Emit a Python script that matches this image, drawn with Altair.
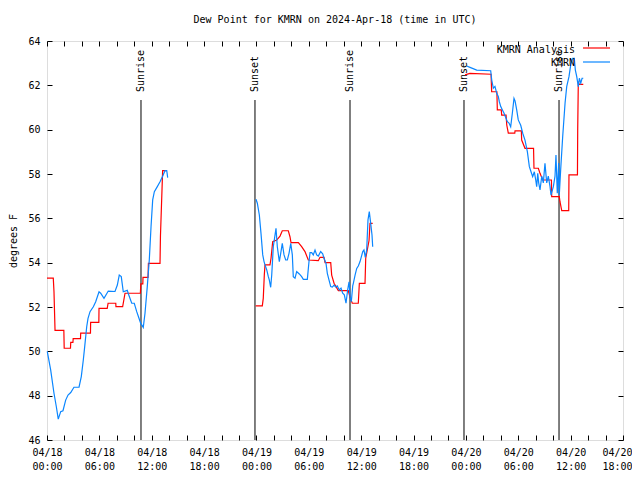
import altair as alt
import pandas as pd

FONT = "DejaVu Sans Mono"
RED = "#ff0000"
BLUE = "#0a86ff"

# hours since 2024-04-18 00:00 UTC
ANALYSIS_HOURS = [
    [0.0, 0.72, 0.8, 0.92, 1.93, 1.97, 2.69, 2.72, 2.97, 3.0, 3.84, 3.86, 4.98, 5.0,
     5.94, 5.96, 6.9, 7.0, 7.88, 7.9, 8.67, 8.94, 10.7, 10.75, 10.98, 11.0, 11.58,
     11.62, 12.95, 13.0, 13.25, 13.72],
    [23.91, 24.67, 24.78, 24.9, 24.98, 25.55, 25.67, 25.86, 26.32, 26.7, 26.96, 27.65,
     27.84, 27.96, 28.8, 29.18, 29.56, 29.94, 31.09, 31.28, 31.74, 31.86, 32.51, 32.62,
     32.89, 33.38, 34.52, 34.7, 34.98, 35.67, 35.79, 36.44, 36.52, 36.9, 37.01, 37.32],
    [47.9, 48.46, 50.88, 50.95, 51.55, 51.6, 52.05, 52.1, 52.6, 52.68, 52.86, 53.6,
     53.63, 54.35, 54.39, 54.77, 55.75, 55.8, 56.3, 56.49, 56.8, 57.8, 57.83, 58.7,
     58.78, 58.98, 59.78, 59.81, 60.78, 60.81, 60.88, 60.96, 61.45],
]
ANALYSIS_DEWPT = [
    [53.3, 53.3, 52.7, 50.95, 50.95, 50.14, 50.14, 50.4, 50.4, 50.57, 50.57, 50.82, 50.82,
     51.31, 51.31, 51.94, 51.94, 52.17, 52.17, 52.02, 52.02, 52.62, 52.62, 53.04, 53.04,
     53.34, 53.34, 53.97, 53.97, 55.2, 58.15, 58.15],
    [52.05, 52.05, 52.39, 53.44, 53.9, 53.9, 54.2, 54.95, 55.02, 55.2, 55.44, 55.44,
     55.17, 54.9, 54.9, 54.72, 54.5, 54.12, 54.09, 54.24, 54.24, 54.0, 54.0, 53.44,
     53.07, 52.74, 52.74, 52.47, 52.17, 52.17, 53.07, 53.07, 54.2, 55.0, 55.77, 55.77],
    [62.47, 62.54, 62.5, 61.71, 61.71, 60.89, 60.89, 60.66, 60.66, 60.21, 59.84, 59.84,
     59.95, 59.95, 59.53, 59.16, 59.16, 58.26, 58.26, 58.03, 57.73, 57.73, 56.98, 56.98,
     56.75, 56.35, 56.35, 57.96, 57.96, 59.98, 62.17, 62.04, 62.04],
]

KMRN_HOURS = [
    [0.03, 0.42, 0.8, 1.07, 1.29, 1.57, 1.83, 2.14, 2.41, 2.72, 3.09, 3.67, 3.93, 4.16,
     4.32, 4.55, 4.7, 4.93, 5.31, 5.58, 5.96, 6.15, 6.53, 7.02, 7.79, 8.06, 8.28, 8.51,
     8.74, 9.2, 9.32, 9.71, 10.0, 10.28, 10.54, 10.73, 11.03, 11.23, 11.49, 11.72,
     11.92, 12.11, 12.3, 12.64, 12.95, 13.26, 13.52, 13.72, 13.83],
    [23.95, 24.1, 24.33, 24.52, 24.72, 24.87, 24.98, 25.18, 25.36, 25.47, 25.63, 25.75,
     25.93, 26.13, 26.24, 26.39, 26.62, 26.78, 26.96, 27.16, 27.35, 27.54, 27.73, 27.93,
     28.11, 28.22, 28.42, 28.61, 28.91, 29.18, 29.37, 29.83, 30.02, 30.14, 30.33, 30.51,
     30.71, 30.9, 31.09, 31.36, 31.59, 31.74, 31.97, 32.12, 32.31, 32.51, 32.69, 32.89,
     33.08, 33.26, 33.49, 33.69, 33.88, 34.07, 34.26, 34.46, 34.61, 34.72, 34.87, 35.03,
     35.1, 35.3, 35.49, 35.67, 35.87, 36.18, 36.32, 36.47, 36.63, 36.78, 36.93, 37.09,
     37.24, 37.32],
    [48.09, 48.47, 49.24, 50.84, 50.96, 51.14, 51.33, 51.53, 51.71, 51.83, 51.99, 52.17,
     52.37, 52.56, 52.75, 52.94, 53.13, 53.32, 53.51, 53.63, 53.82, 54.0, 54.28, 54.51,
     54.77, 55.04, 55.27, 55.46, 55.65, 55.84, 56.0, 56.11, 56.23, 56.34, 56.49, 56.69,
     56.87, 57.06, 57.26, 57.44, 57.64, 57.75, 58.02, 58.21, 58.32, 58.47, 58.63, 58.7,
     58.86, 59.09, 59.36, 59.55, 59.81, 60.01, 60.24, 60.42, 60.54, 60.7, 60.88, 61.0,
     61.16, 61.31, 61.45],
]
KMRN_DEWPT = [
    [50.0, 49.16, 48.11, 47.5, 46.94, 47.28, 47.32, 47.8, 48.03, 48.14, 48.38, 48.38,
     48.86, 49.61, 50.21, 51.11, 51.49, 51.79, 52.01, 52.24, 52.69, 52.62, 52.39, 52.72,
     52.7, 52.99, 53.44, 53.37, 52.69, 52.75, 52.6, 52.17, 52.17, 51.79, 51.49, 51.27,
     51.08, 51.72, 52.92, 54.12, 55.62, 56.83, 57.2, 57.43, 57.65, 57.91, 58.15, 58.15,
     57.84],
    [56.86, 56.68, 56.15, 55.32, 54.35, 54.05, 53.9, 53.67, 53.37, 53.22, 52.89, 53.44,
     54.72, 55.25, 55.55, 54.72, 54.05, 54.42, 54.87, 54.35, 54.12, 54.12, 54.42, 54.87,
     54.35, 53.37, 53.3, 53.6, 53.49, 53.37, 53.25, 53.25, 54.05, 54.45, 54.45, 54.35,
     54.57, 54.35, 54.3, 54.5, 54.4, 54.2, 53.97, 53.52, 53.22, 52.92, 52.9, 52.99,
     52.9, 52.95, 52.77, 52.85, 52.62, 52.55, 52.17, 52.8, 53.14, 52.47, 52.24, 52.95,
     53.07, 53.44, 53.74, 53.85, 54.05, 54.5, 54.57, 54.24, 54.57, 55.93, 56.3, 55.77,
     55.25, 54.72],
    [62.87, 62.81, 62.69, 62.66, 62.24, 61.87, 61.95, 61.64, 61.5, 61.26, 61.04, 60.9,
     60.74, 60.55, 60.36, 60.3, 60.13, 60.74, 61.41, 61.3, 60.89, 60.44, 60.2, 59.84,
     59.53, 59.01, 58.33, 58.1, 57.88, 58.1, 57.73, 57.43, 58.03, 57.6, 57.28, 57.9,
     57.6, 58.48, 57.6, 57.9, 57.43, 57.05, 57.43, 57.9, 58.86, 57.13, 58.5, 57.05,
     58.2, 59.69, 61.19, 61.94, 62.39, 62.92, 63.22, 63.22, 62.69, 62.39, 61.94, 62.32,
     62.1, 62.32, 62.32],
]

EVENT_HOURS = [10.77, 23.83, 34.72, 47.78, 58.67]
EVENT_NAMES = ["Sunrise", "Sunset", "Sunrise", "Sunset", "Sunrise"]

SERIES_NAMES = ["KMRN Analysis", "KMRN"]


def frame(hours, vals, name):
    rows = []
    for seg, (hs, vs) in enumerate(zip(hours, vals)):
        for h, v in zip(hs, vs):
            rows.append({"hour": h, "dewpt": v, "seg": seg, "series": name})
    return pd.DataFrame(rows)


df_an = frame(ANALYSIS_HOURS, ANALYSIS_DEWPT, SERIES_NAMES[0])
df_ob = frame(KMRN_HOURS, KMRN_DEWPT, SERIES_NAMES[1])
df_ev = pd.DataFrame({"hour": EVENT_HOURS, "label": EVENT_NAMES})

W, H = 576, 399
xs = alt.Scale(domain=[0, 66], nice=False, zero=False)
ys = alt.Scale(domain=[46, 64], nice=False, zero=False)

label_expr = ("datum.value % 6 == 0 ? ['04/' + (18 + floor(datum.value / 24)), "
              "(datum.value % 24 < 10 ? '0' : '') + (datum.value % 24) + ':00'] : ''")

x_bottom = alt.Axis(orient="bottom", values=list(range(0, 67, 2)), labelExpr=label_expr,
                    domain=False, grid=False, ticks=True, tickSize=5, offset=-5,
                    tickColor="black", labelFont=FONT, labelFontSize=10, labelColor="black",
                    labelPadding=7, labelLineHeight=14, labelFlush=False, labelOverlap=False,
                    labelBound=False, title=None,
                    labelOffset={"condition": {"test": "datum.value == 66", "value": -6},
                                 "value": 0})
y_left = alt.Axis(orient="left", values=list(range(46, 65, 2)), domain=False, grid=False,
                  ticks=True, tickSize=5, offset=-5, tickColor="black", labelFont=FONT,
                  labelFontSize=10, labelColor="black", labelPadding=7, labelFlush=False,
                  labelOverlap=False, title="degrees F", titleFont=FONT, titleFontSize=10,
                  titleFontWeight="normal", titleColor="black", titlePadding=9)
x_top = alt.Axis(orient="top", values=list(range(0, 67, 2)), domain=False, grid=False,
                 ticks=True, tickSize=5, offset=-5, tickColor="black", labels=False, title=None)
y_right = alt.Axis(orient="right", values=list(range(46, 65, 2)), domain=False, grid=False,
                   ticks=True, tickSize=5, offset=-5, tickColor="black", labels=False, title=None)

red = alt.Chart(df_an).mark_line(color=RED, strokeWidth=1.2).encode(
    x=alt.X("hour:Q", scale=xs, axis=x_bottom),
    y=alt.Y("dewpt:Q", scale=ys, axis=y_left),
    detail="seg:N",
)
blue = alt.Chart(df_ob).mark_line(color=BLUE, strokeWidth=1.2).encode(
    x=alt.X("hour:Q", scale=xs, axis=x_top),
    y=alt.Y("dewpt:Q", scale=ys, axis=y_right),
    detail="seg:N",
)
rules = alt.Chart(df_ev).mark_rule(color="black", strokeWidth=1).encode(
    x=alt.X("hour:Q", scale=xs, axis=None),
    y=alt.value(59),
    y2=alt.value(H),
)
ev_text = alt.Chart(df_ev).mark_text(angle=270, align="left", baseline="middle",
                                     font=FONT, fontSize=10, color="black").encode(
    x=alt.X("hour:Q", scale=xs, axis=None),
    y=alt.value(51),
    text="label:N",
)

one = pd.DataFrame({"k": [0]})
leg_t1 = alt.Chart(one).mark_text(text=SERIES_NAMES[0], align="right", baseline="middle",
                                  font=FONT, fontSize=10, color="black").encode(
    x=alt.value(528), y=alt.value(9))
leg_t2 = alt.Chart(one).mark_text(text=SERIES_NAMES[1], align="right", baseline="middle",
                                  font=FONT, fontSize=10, color="black").encode(
    x=alt.value(528), y=alt.value(22))
leg_l1 = alt.Chart(one).mark_rule(color=RED, strokeWidth=1.2).encode(
    x=alt.value(536), x2=alt.value(563), y=alt.value(7))
leg_l2 = alt.Chart(one).mark_rule(color=BLUE, strokeWidth=1.2).encode(
    x=alt.value(536), x2=alt.value(563), y=alt.value(21))

chart = alt.layer(rules, ev_text, red, blue, leg_t1, leg_t2, leg_l1, leg_l2).resolve_axis(
    x="independent", y="independent"
).properties(
    width=W, height=H,
    title=alt.TitleParams("Dew Point for KMRN on 2024-Apr-18 (time in UTC)", font=FONT,
                          fontSize=10, fontWeight="normal", color="black", anchor="middle",
                          offset=11),
    autosize=alt.AutoSizeParams(type="none"),
    padding={"left": 39, "top": 33, "right": 9, "bottom": 32},
).configure_view(stroke="black", strokeWidth=1).configure(background="white")

chart.save("out.html", embed_options={"renderer": "svg", "actions": False})
